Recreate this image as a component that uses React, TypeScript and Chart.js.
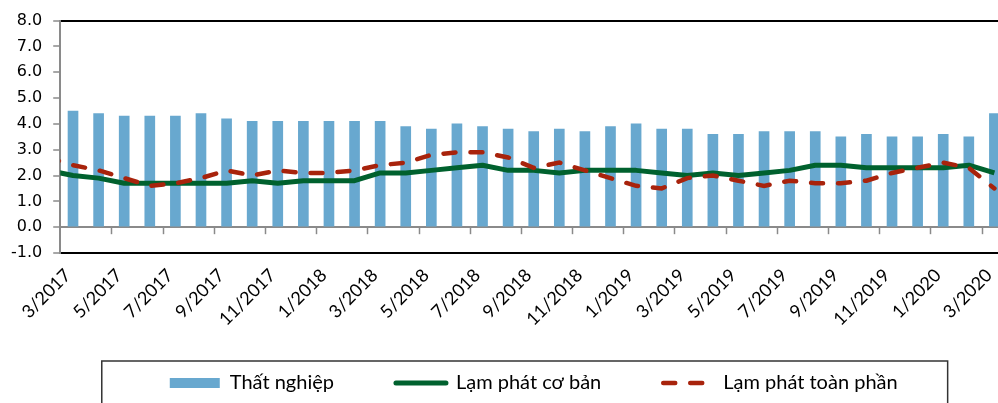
import React, { useEffect, useRef } from 'react';
import { Chart, registerables } from 'chart.js';

Chart.register(...registerables);

// Month labels (the first one, 2/2017, sits just left of the plot and is only used for the clipped line start)
const months: string[] = [
  '2/2017', '3/2017', '4/2017', '5/2017', '6/2017', '7/2017', '8/2017', '9/2017', '10/2017', '11/2017', '12/2017',
  '1/2018', '2/2018', '3/2018', '4/2018', '5/2018', '6/2018', '7/2018', '8/2018', '9/2018', '10/2018', '11/2018', '12/2018',
  '1/2019', '2/2019', '3/2019', '4/2019', '5/2019', '6/2019', '7/2019', '8/2019', '9/2019', '10/2019', '11/2019', '12/2019',
  '1/2020', '2/2020', '3/2020',
];

const unemployment: (number | null)[] = [
  null, 4.5, 4.4, 4.3, 4.3, 4.3, 4.4, 4.2, 4.1, 4.1, 4.1,
  4.1, 4.1, 4.1, 3.9, 3.8, 4.0, 3.9, 3.8, 3.7, 3.8, 3.7, 3.9,
  4.0, 3.8, 3.8, 3.6, 3.6, 3.7, 3.7, 3.7, 3.5, 3.6, 3.5, 3.5,
  3.6, 3.5, 4.4,
];

const coreInflation: number[] = [
  2.2, 2.0, 1.9, 1.7, 1.7, 1.7, 1.7, 1.7, 1.8, 1.7, 1.8,
  1.8, 1.8, 2.1, 2.1, 2.2, 2.3, 2.4, 2.2, 2.2, 2.1, 2.2, 2.2,
  2.2, 2.1, 2.0, 2.1, 2.0, 2.1, 2.2, 2.4, 2.4, 2.3, 2.3, 2.3,
  2.3, 2.4, 2.1,
];

const headlineInflation: number[] = [
  2.7, 2.4, 2.2, 1.9, 1.6, 1.7, 1.9, 2.2, 2.0, 2.2, 2.1,
  2.1, 2.2, 2.4, 2.5, 2.8, 2.9, 2.9, 2.7, 2.3, 2.5, 2.2, 1.9,
  1.6, 1.5, 1.9, 2.0, 1.8, 1.6, 1.8, 1.7, 1.7, 1.8, 2.1, 2.3,
  2.5, 2.3, 1.5,
];

const seriesNames = ['Thất nghiệp', 'Lạm phát cơ bản', 'Lạm phát toàn phần'];
const yMin = -1;
const yMax = 8;

const BAR_COLOR = '#68A8CF';
const CORE_COLOR = '#00612E';
const HEAD_COLOR = '#A8230C';
const AXIS_GRAY = '#8a8a8a';

const decorPlugin = {
  id: 'decor',
  afterDraw(chart: any) {
    const { ctx, scales } = chart;
    const x = scales.x;
    const y = scales.y;
    const y0 = y.getPixelForValue(0);
    ctx.save();
    // tick marks on the zero line, every second category boundary
    ctx.strokeStyle = AXIS_GRAY;
    ctx.lineWidth = 1.5;
    for (let k = x.min + 1; k < x.max; k += 2) {
      const bx = Math.round((x.getPixelForValue(k) + x.getPixelForValue(k + 1)) / 2) + 0.5;
      ctx.beginPath();
      ctx.moveTo(bx, y0);
      ctx.lineTo(bx, y0 + 7);
      ctx.stroke();
    }
    // legend frame
    const lg = chart.legend;
    const hb = lg && lg.legendHitBoxes;
    if (hb && hb.length) {
      const left = hb[0].left - 68;
      const last = hb[hb.length - 1];
      const right = last.left + last.width + 50;
      const top = hb[0].top - 12;
      ctx.strokeStyle = '#333';
      ctx.lineWidth = 1.5;
      ctx.strokeRect(left, top, right - left, chart.height - top + 20);
    }
    ctx.restore();
  },
};

export default function App() {
  const canvasRef = useRef<HTMLCanvasElement | null>(null);

  useEffect(() => {
    if (!canvasRef.current) return;
    const chart = new Chart(canvasRef.current, {
      type: 'bar',
      data: {
        labels: months,
        datasets: [
          {
            type: 'bar',
            label: seriesNames[0],
            data: unemployment,
            backgroundColor: BAR_COLOR,
            borderWidth: 0,
            barThickness: 10,
            order: 3,
          } as any,
          {
            type: 'line',
            label: seriesNames[1],
            data: coreInflation,
            borderColor: CORE_COLOR,
            backgroundColor: CORE_COLOR,
            borderWidth: 5,
            pointRadius: 0,
            tension: 0,
            borderJoinStyle: 'round',
            order: 2,
          } as any,
          {
            type: 'line',
            label: seriesNames[2],
            data: headlineInflation,
            borderColor: HEAD_COLOR,
            backgroundColor: HEAD_COLOR,
            borderWidth: 4.5,
            borderDash: [12, 15],
            borderCapStyle: 'round',
            pointRadius: 0,
            tension: 0,
            order: 1,
          } as any,
        ],
      },
      options: {
        responsive: false,
        animation: false,
        layout: { padding: { top: 18, left: 0, right: 2.8, bottom: 0 } },
        scales: {
          x: {
            type: 'category',
            min: '3/2017',
            offset: true,
            grid: { display: false },
            border: { display: false },
            ticks: {
              autoSkip: false,
              maxRotation: 45,
              minRotation: 45,
              mirror: true,
              padding: -27,
              labelOffset: 10,
              color: '#000',
              font: { family: 'Lato', size: 18 },
              callback: function (this: any, value: any) {
                const v = Number(value);
                return (v - 1) % 2 === 0 ? this.getLabelForValue(v) : '';
              },
            },
            afterFit: (scale: any) => {
              scale.height = 58;
            },
          },
          y: {
            min: yMin,
            max: yMax,
            ticks: {
              stepSize: 1,
              padding: 11,
              color: '#000',
              font: { family: 'DejaVu Sans', size: 16 },
              callback: (v: any) => Number(v).toFixed(1),
            },
            grid: {
              drawOnChartArea: true,
              color: (c: any) => {
                const v = c.tick && c.tick.value;
                if (v === yMax || v === yMin) return '#000';
                if (v === 0) return AXIS_GRAY;
                return 'rgba(0,0,0,0)';
              },
              lineWidth: (c: any) => {
                const v = c.tick && c.tick.value;
                return v === yMax || v === yMin || v === 0 ? 2 : 0;
              },
              tickColor: AXIS_GRAY,
              tickWidth: 1.5,
              tickLength: 7,
            },
            border: { color: AXIS_GRAY, width: 2 },
          },
        },
        plugins: {
          title: { display: false },
          tooltip: { enabled: false },
          legend: {
            display: true,
            position: 'bottom',
            fullSize: false,
            labels: {
              usePointStyle: true,
              pointStyleWidth: 50,
              boxHeight: 10,
              padding: 62,
              color: '#000',
              font: { family: 'Lato', size: 20 },
              generateLabels: (ch: any) =>
                ch.data.datasets.map((ds: any, i: number) => {
                  const isBar = ds.type === 'bar';
                  return {
                    text: ds.label,
                    datasetIndex: i,
                    hidden: false,
                    fontColor: '#000',
                    pointStyle: isBar ? 'rect' : 'line',
                    fillStyle: isBar ? ds.backgroundColor : ds.borderColor,
                    strokeStyle: isBar ? ds.backgroundColor : ds.borderColor,
                    lineWidth: isBar ? 0 : ds.borderWidth,
                    lineDash: isBar ? [] : ds.borderDash || [],
                    lineCap: isBar ? 'butt' : 'round',
                  };
                }),
            },
          },
        },
      },
      plugins: [decorPlugin],
    } as any);
    return () => chart.destroy();
  }, []);

  return (
    <div
      style={{
        position: 'absolute',
        left: 0,
        top: 0,
        width: 998,
        height: 403,
        overflow: 'hidden',
        background: '#fff',
      }}
    >
      <canvas ref={canvasRef} width={1010} height={403} style={{ display: 'block' }} />
    </div>
  );
}
